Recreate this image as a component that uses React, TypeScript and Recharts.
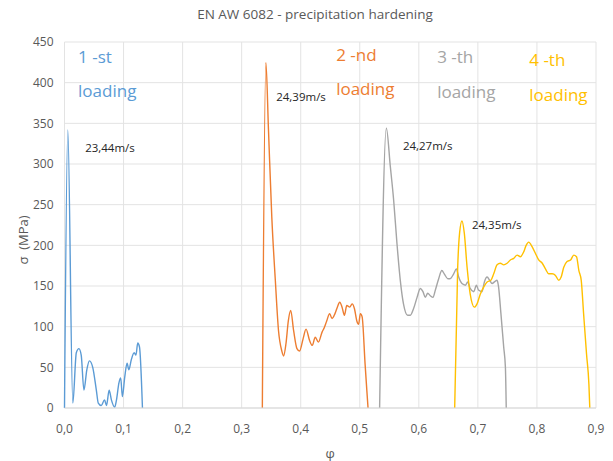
import { CartesianGrid, Line, LineChart, ReferenceDot, XAxis, YAxis } from 'recharts'

// φ (strain), σ (MPa) pairs for each loading
const loading1: [number, number][] = [
  [0, 0], [0.0056, 342], [0.0141, 6], [0.02, 68], [0.0244, 73], [0.0283, 65],
  [0.0329, 22], [0.0378, 47], [0.0422, 58], [0.0478, 50], [0.0539, 22], [0.0572, 6],
  [0.0622, 3], [0.0678, 10], [0.0711, 3], [0.0756, 22], [0.0794, 10], [0.085, 1],
  [0.0878, 9], [0.0922, 31], [0.0952, 37], [0.098, 14], [0.102, 38], [0.106, 55],
  [0.109, 47], [0.113, 59], [0.118, 68], [0.121, 65], [0.124, 80], [0.127, 75],
  [0.132, 0],
]
const loading2: [number, number][] = [
  [0.335, 0], [0.341, 425], [0.3454, 342], [0.351, 235], [0.357, 157], [0.3624, 95],
  [0.368, 70], [0.371, 64], [0.375, 79], [0.379, 107], [0.383, 120], [0.388, 95],
  [0.3936, 73], [0.398, 70], [0.404, 85], [0.409, 97], [0.415, 83], [0.4195, 77],
  [0.4246, 87], [0.43, 81], [0.436, 93], [0.44, 99], [0.444, 107], [0.449, 116],
  [0.453, 110], [0.458, 116], [0.462, 124], [0.466, 130], [0.47, 124], [0.474, 114],
  [0.478, 126], [0.483, 124], [0.487, 128], [0.491, 122], [0.495, 107], [0.498, 103],
  [0.501, 116], [0.504, 112], [0.509, 54], [0.512, 21], [0.514, 0],
]
const loading3: [number, number][] = [
  [0.5336, 0], [0.545, 344], [0.5517, 297], [0.5573, 256], [0.563, 202], [0.5686, 157],
  [0.574, 128], [0.581, 114], [0.5856, 114], [0.591, 122], [0.597, 136], [0.6025, 147],
  [0.607, 143], [0.611, 136], [0.615, 141], [0.6195, 138], [0.624, 136], [0.628, 145],
  [0.6336, 159], [0.639, 169], [0.643, 165], [0.649, 159], [0.653, 159], [0.659, 165],
  [0.6636, 171], [0.6675, 161], [0.673, 153], [0.679, 151], [0.6827, 155], [0.687, 147],
  [0.693, 143], [0.6975, 151], [0.701, 145], [0.707, 143], [0.711, 155], [0.7156, 161],
  [0.72, 157], [0.724, 153], [0.728, 155], [0.7325, 157], [0.735, 149], [0.739, 116],
  [0.7437, 75], [0.7466, 50], [0.748, 0],
]
const loading4: [number, number][] = [
  [0.6607, 0], [0.6658, 173], [0.669, 215], [0.673, 230], [0.677, 215], [0.6817, 173],
  [0.687, 140], [0.694, 124], [0.6986, 128], [0.704, 140], [0.71, 149], [0.7156, 155],
  [0.722, 157], [0.7268, 165], [0.7325, 176], [0.738, 178], [0.7437, 176], [0.7495, 178],
  [0.755, 182], [0.7607, 184], [0.7664, 188], [0.772, 186], [0.7776, 192], [0.7817, 200],
  [0.786, 204], [0.792, 198], [0.7975, 190], [0.803, 182], [0.809, 178], [0.8144, 171],
  [0.82, 165], [0.8258, 165], [0.8314, 163], [0.837, 157], [0.841, 161], [0.8454, 173],
  [0.851, 180], [0.857, 182], [0.8624, 188], [0.867, 186], [0.871, 169], [0.875, 157],
  [0.879, 116], [0.884, 66], [0.888, 29], [0.8895, 0],
]

const xTicks = [0, 0.1, 0.2, 0.3, 0.4, 0.5, 0.6, 0.7, 0.8, 0.9]
const yTicks = [0, 50, 100, 150, 200, 250, 300, 350, 400, 450]

const BLUE = '#5b9bd5'
const ORANGE = '#ed7d31'
const GRAY = '#a5a5a5'
const YELLOW = '#ffc000'
const FONT = '"Open Sans", sans-serif'

// text notes anchored at their left edge / vertical middle, in data units
const notes: { x: number; y: number; text: string; color: string; big: boolean }[] = [
  { x: 0.023, y: 432, text: '1 -st', color: BLUE, big: true },
  { x: 0.023, y: 390, text: 'loading', color: BLUE, big: true },
  { x: 0.46, y: 435, text: '2 -nd', color: ORANGE, big: true },
  { x: 0.46, y: 393, text: 'loading', color: ORANGE, big: true },
  { x: 0.631, y: 432, text: '3 -th', color: GRAY, big: true },
  { x: 0.631, y: 389, text: 'loading', color: GRAY, big: true },
  { x: 0.787, y: 429, text: '4 -th', color: YELLOW, big: true },
  { x: 0.787, y: 386, text: 'loading', color: YELLOW, big: true },
  { x: 0.035, y: 320, text: '23,44m/s', color: '#262626', big: false },
  { x: 0.3585, y: 383, text: '24,39m/s', color: '#262626', big: false },
  { x: 0.573, y: 323, text: '24,27m/s', color: '#262626', big: false },
  { x: 0.69, y: 226, text: '24,35m/s', color: '#262626', big: false },
]

const series = [
  { name: '1', points: loading1, color: BLUE },
  { name: '2', points: loading2, color: ORANGE },
  { name: '3', points: loading3, color: GRAY },
  { name: '4', points: loading4, color: YELLOW },
]

const fmt = (v: number) => v.toFixed(1).replace('.', ',')

export default function App() {
  return (
    <div style={{ position: 'absolute', left: 0, top: 0, width: 613, height: 461, background: '#fff', fontFamily: FONT }}>
      <div
        style={{
          position: 'absolute',
          top: 5,
          left: 0,
          width: 630,
          textAlign: 'center',
          fontSize: 13.5,
          color: '#595959',
        }}
      >
        EN AW 6082 - precipitation hardening
      </div>
      <LineChart width={613} height={461} margin={{ top: 42, right: 17, bottom: 0, left: 0 }}>
        <CartesianGrid stroke="#e3e3e3" />
        <XAxis
          type="number"
          dataKey="x"
          domain={[0, 0.9]}
          ticks={xTicks}
          tickFormatter={fmt}
          tick={{ fill: '#595959', fontSize: 12, fontFamily: FONT }}
          tickLine={false}
          axisLine={{ stroke: '#d9d9d9' }}
          tickMargin={10}
          height={53}
          label={{ value: 'φ', position: 'insideBottom', offset: 3, fill: '#595959', fontSize: 13, fontFamily: FONT }}
        />
        <YAxis
          type="number"
          domain={[0, 450]}
          ticks={yTicks}
          tick={{ fill: '#595959', fontSize: 12, fontFamily: FONT }}
          tickLine={false}
          axisLine={false}
          tickMargin={5}
          width={64.5}
          label={{
            content: () => (
              <text
                x={23}
                y={240}
                transform="rotate(-90 23 240)"
                textAnchor="middle"
                dominantBaseline="central"
                fill="#595959"
                fontSize={13}
                fontFamily={FONT}
              >
                {'σ\u00a0\u00a0(MPa)'}
              </text>
            ),
          }}
        />
        {series.map((s) => (
          <Line
            key={s.name}
            data={s.points.map(([x, y]) => ({ x, y }))}
            dataKey="y"
            type="monotone"
            stroke={s.color}
            strokeWidth={1.4}
            dot={false}
            isAnimationActive={false}
          />
        ))}
        {notes.map((n) => (
          <ReferenceDot
            key={n.text + n.x}
            x={n.x}
            y={n.y}
            r={0}
            shape={(p: any) => (
              <text
                x={p.cx}
                y={p.cy}
                dominantBaseline="central"
                fill={n.color}
                fontSize={n.big ? 17 : 11.5}
                fontFamily={FONT}
              >
                {n.text}
              </text>
            )}
          />
        ))}
      </LineChart>
    </div>
  )
}
